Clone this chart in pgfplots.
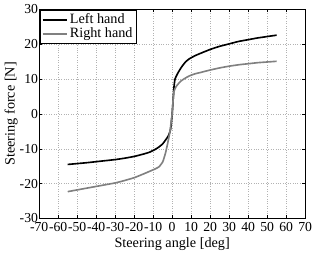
\documentclass[border=0pt]{standalone}
\usepackage{pgfplots}
\pgfplotsset{compat=1.18}
\usepackage{fontspec}
\setmainfont{Liberation Serif}
\begin{document}
\fontsize{14}{16}\selectfont
\begin{tikzpicture}
\begin{axis}[
  scale only axis,
  width=262pt, height=206pt,
  xmin=-70, xmax=70, ymin=-30, ymax=30,
  xtick={-70,-60,-50,-40,-30,-20,-10,0,10,20,30,40,50,60,70},
  xticklabels={-70,-60,-50,-40,-30,-20,-10,0,10,20,30,40,50,60,70},
  ytick={-30,-20,-10,0,10,20,30},
  yticklabels={-30,-20,-10,0,10,20,30},
  tick align=inside,
  xtick pos=both, ytick pos=both,
  major tick length=3pt,
  tick style={black, line width=0.4pt},
  grid=major,
  major grid style={gray!60, dotted, line width=0.5pt},
  axis line style={black, line width=0.6pt},
  xticklabel style={font=\fontsize{13.5}{13.5}\selectfont, inner xsep=0pt, yshift=1pt},
  yticklabel style={font=\fontsize{13.5}{13.5}\selectfont, inner xsep=1pt},
  xlabel={Steering angle [deg]},
  ylabel={Steering force [N]},
  label style={font=\fontsize{14}{16}\selectfont},
  xlabel style={yshift=4pt},
  ylabel style={yshift=-4pt},
  legend style={at={(0.003,0.997)}, anchor=north west, draw=black, line width=0.6pt,
    font=\fontsize{14}{15}\selectfont, inner sep=1.5pt, row sep=-2pt},
  legend cell align=left,
  legend image code/.code={\draw[#1, line width=1.6pt] (0pt,0pt) -- (24pt,0pt);},
]
\addplot[black, line width=1.6pt, smooth, tension=0.3] coordinates {
(-55,-14.5) (-45,-14.0) (-40,-13.7) (-30,-13.1) (-25,-12.7) (-20,-12.2) (-15,-11.5)
(-12,-11.0) (-9,-10.2) (-7,-9.5) (-5,-8.6) (-3.5,-7.5) (-2,-6.3) (-1,-4.8) (-0.5,-3)
(0,0) (0.5,4) (1,8) (1.5,10) (2.5,11.2) (3.5,12.2) (5,13.5) (7,14.9) (9,15.8) (12,16.7)
(15,17.4) (20,18.5) (25,19.4) (30,20.1) (35,20.8) (40,21.3) (45,21.8) (50,22.2) (55,22.6)
};
\addlegendentry{Left hand}
\addplot[gray, line width=1.6pt, smooth, tension=0.3] coordinates {
(-55,-22.3) (-45,-21.3) (-40,-20.8) (-30,-19.8) (-25,-19.1) (-20,-18.3) (-15,-17.2)
(-12,-16.5) (-9,-15.8) (-7,-15.2) (-5,-13.8) (-3.5,-11.2) (-2,-7.5) (-1,-4.5) (-0.5,-2)
(0,0) (0.5,4) (1,6.5) (2,7.8) (3.5,8.8) (5,9.6) (7,10.3) (9,10.9) (12,11.5) (15,11.9)
(20,12.6) (25,13.2) (30,13.7) (35,14.1) (40,14.4) (45,14.7) (50,14.9) (55,15.1)
};
\addlegendentry{Right hand}
\end{axis}
\end{tikzpicture}
\end{document}
